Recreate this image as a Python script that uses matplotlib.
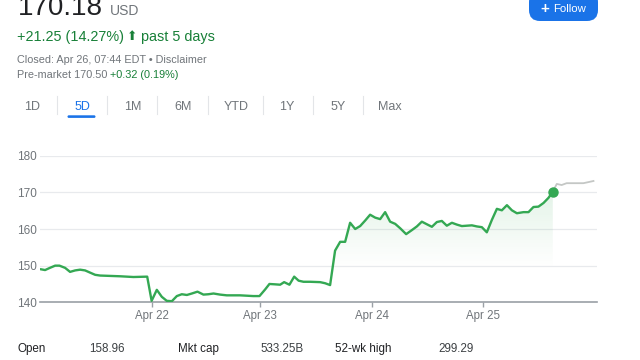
import numpy as np
import matplotlib
matplotlib.use("Agg")
import matplotlib.pyplot as plt
from matplotlib.path import Path
from matplotlib.patches import FancyBboxPatch

plt.rcParams['font.family'] = ['Liberation Sans', 'DejaVu Sans']

# price over the 5 sessions (x = trading days since start, Apr 22 = 1)
day_pos = [0.0, 0.036, 0.08, 0.127, 0.166, 0.217, 0.262, 0.308, 0.353, 0.398,
           0.443, 0.489, 0.534, 0.624, 0.715, 0.835, 0.96, 1.0, 1.047, 1.092,
           1.137, 1.183, 1.228, 1.273, 1.319, 1.364, 1.415, 1.469, 1.514, 1.56,
           1.62, 1.68, 1.74, 1.8, 1.86, 1.92, 1.976, 2.027, 2.066, 2.118,
           2.163, 2.199, 2.247, 2.29, 2.33, 2.374, 2.434, 2.525, 2.57, 2.615,
           2.66, 2.706, 2.751, 2.796, 2.842, 2.887, 2.932, 2.977, 3.023, 3.068,
           3.113, 3.158, 3.204, 3.249, 3.303, 3.355, 3.4, 3.445, 3.49, 3.536,
           3.581, 3.626, 3.671, 3.717, 3.762, 3.807, 3.898, 3.943, 3.988, 4.033,
           4.079, 4.124, 4.169, 4.215, 4.26, 4.305, 4.365, 4.41, 4.455, 4.5,
           4.546, 4.591, 4.63]
price = [149.0, 148.8, 149.4, 150.0, 150.0, 149.4, 148.3, 148.7, 148.9, 148.7,
         148.1, 147.5, 147.3, 147.2, 147.1, 146.9, 147.0, 140.4, 143.4, 141.5,
         140.4, 140.3, 141.7, 142.2, 142.0, 142.4, 142.9, 142.1, 142.2, 142.4,
         142.1, 141.9, 141.9, 141.9, 141.8, 141.7, 141.7, 143.5, 145.0, 144.9,
         144.8, 145.5, 144.8, 147.0, 145.9, 145.6, 145.6, 145.5, 145.2, 144.7,
         154.1, 156.5, 156.5, 161.7, 160.0, 160.8, 162.3, 163.9, 163.1, 162.7,
         164.6, 162.0, 161.4, 160.2, 158.6, 159.7, 160.7, 162.0, 161.3, 160.6,
         161.9, 162.2, 160.9, 161.7, 161.2, 160.8, 161.0, 160.7, 160.5, 159.1,
         162.5, 165.5, 165.1, 166.5, 165.1, 164.3, 164.6, 164.6, 166.0, 166.1,
         167.1, 168.5, 170.18]

# pre-market continuation
pre_pos = [4.63, 4.666, 4.71, 4.755, 4.817, 4.907, 4.953, 4.998]
pre_price = [170.18, 172.3, 172.0, 172.5, 172.5, 172.5, 172.8, 173.1]

prev_close = 148.93
day_ticks = [1.0, 1.98, 2.99, 4.0]
day_labels = ['Apr 22', 'Apr 23', 'Apr 24', 'Apr 25']
y_ticks = [140, 150, 160, 170, 180]

tabs = ['1D', '5D', '1M', '6M', 'YTD', '1Y', '5Y', 'Max']
stat_labels = ['Open', 'Mkt cap', '52-wk high']
stat_values = ['158.96', '533.25B', '299.29']

GREEN = '#34a853'
TXT_GREEN = '#188038'
GRAY = '#70757a'
DARK = '#202124'
BLUE = '#1a73e8'

W, H = 640, 360
fig = plt.figure(figsize=(6.4, 3.6), dpi=100)

# ---- chart ----
ax = fig.add_axes([40 / W, (H - 302.3) / H, 557 / W, 146.6 / H])
x = np.array(day_pos)
y = np.array(price)

ax.plot(x, y, color=GREEN, lw=1.7, solid_joinstyle='round', zorder=3)
ax.plot(pre_pos, pre_price, color='#c4c7c5', lw=1.3, zorder=2)
ax.plot([x[-1]], [y[-1]], 'o', color=GREEN, ms=6.5, zorder=4)

# gradient fill above previous close
poly = ax.fill_between(x, y, prev_close, where=y >= prev_close,
                       interpolate=True, color='none', lw=0)
clip = Path.make_compound_path(*poly.get_paths())
grad = np.zeros((100, 1, 4))
grad[..., 0], grad[..., 1], grad[..., 2] = 0.204, 0.659, 0.325
grad[:, 0, 3] = np.linspace(0.17, 0.0, 100) ** 1.1
im = ax.imshow(grad, extent=[x[0], x[-1], prev_close, 171], aspect='auto',
               origin='upper', zorder=1, interpolation='bilinear')
im.set_clip_path(clip, transform=ax.transData)

ax.set_xlim(-0.01, 5.03)
ax.set_ylim(140, 180)
ax.set_yticks(y_ticks)
ax.set_xticks(day_ticks)
ax.set_xticklabels(day_labels)
ax.grid(axis='y', color='#e8eaed', lw=0.9)
ax.set_axisbelow(True)
for s in ['top', 'right', 'left']:
    ax.spines[s].set_visible(False)
ax.spines['bottom'].set_color('#9aa0a6')
ax.spines['bottom'].set_linewidth(1.2)
ax.tick_params(axis='y', length=0, pad=2.5, labelsize=8.5, labelcolor=GRAY)
ax.tick_params(axis='x', length=3.8, width=1, color='#9aa0a6', pad=1.5,
               labelsize=8.3, labelcolor=GRAY)
ax.patch.set_visible(False)

# ---- header / footer overlay in pixel coords ----
ov = fig.add_axes([0, 0, 1, 1])
ov.set_xlim(0, W)
ov.set_ylim(H, 0)
ov.axis('off')

ov.text(18, 15, '170.18', fontsize=20, color=DARK, va='baseline')
ov.text(110, 15, 'USD', fontsize=10, color=GRAY, va='baseline')
ov.text(17, 40.5, '+21.25 (14.27%)', fontsize=10.4, color=TXT_GREEN, va='baseline')
ov.text(126.5, 40.5, '\u2b06', fontsize=9, color=TXT_GREEN, va='baseline',
        family=['DejaVu Sans'])
ov.text(141, 40.5, 'past 5 days', fontsize=10.4, color=TXT_GREEN, va='baseline')
ov.text(17, 63, 'Closed: Apr 26, 07:44 EDT \u2022 Disclaimer', fontsize=7.8,
        color=GRAY, va='baseline')
ov.text(17, 78.5, 'Pre-market 170.50', fontsize=7.8, color=GRAY, va='baseline')
ov.text(110.5, 78.5, '+0.32 (0.19%)', fontsize=7.8, color=TXT_GREEN, va='baseline')

tab_x = [32, 82, 133, 183, 236, 287, 338, 390]
sep_x = [57, 107, 157, 208, 263, 313, 363]
for tx, lab in zip(tab_x, tabs):
    ov.text(tx, 110, lab, fontsize=9, ha='center', va='baseline',
            color=BLUE if lab == '5D' else GRAY)
for sx in sep_x:
    ov.plot([sx, sx], [96, 114], color='#e3e5e8', lw=0.8)
ov.add_patch(FancyBboxPatch((67.5, 115.3), 28, 2.6,
                            boxstyle='round,pad=0,rounding_size=1.3',
                            fc=BLUE, ec='none'))

# follow button
ov.add_patch(FancyBboxPatch((529, -9), 69, 30,
                            boxstyle='round,pad=0,rounding_size=11',
                            fc=BLUE, ec='none'))
ov.text(545, 9.5, '+', fontsize=11, color='white', ha='center', va='center',
        fontweight='bold')
ov.text(553, 9.5, 'Follow', fontsize=8.2, color='white', va='center')

# stats row
for lx, vx, lab, val in zip([17, 178, 335], [89, 260, 438], stat_labels, stat_values):
    ov.text(lx, 352, lab, fontsize=8.4, color=DARK, va='baseline')
    ov.text(vx, 352, val, fontsize=8.4, color='#3c4043', va='baseline')

fig.savefig('out.png', dpi=100)
